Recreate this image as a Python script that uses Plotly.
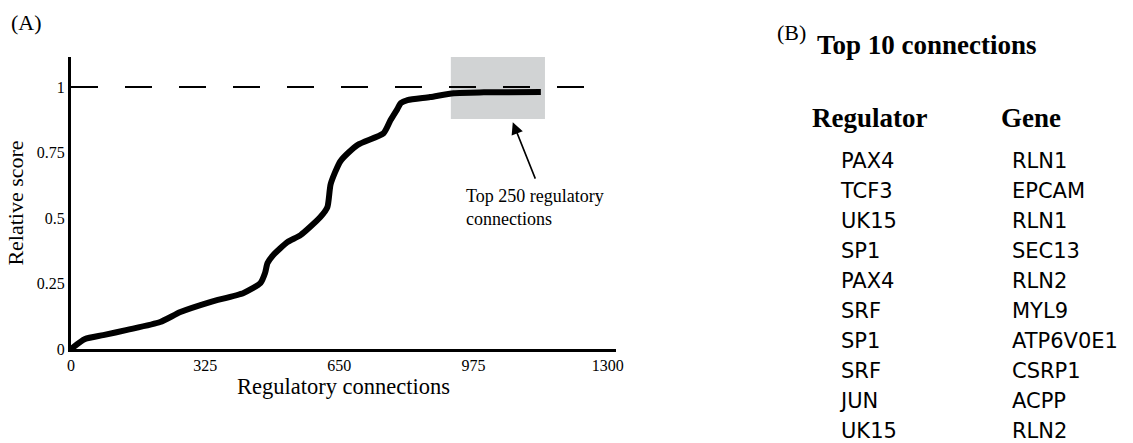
import plotly.graph_objects as go

W, H = 1133, 443

# ---- Panel A data ----
conn_x = [0, 34, 78, 136, 216, 265, 337, 418, 459, 470, 476, 490, 524, 556, 604, 621,
          629, 653, 694, 757, 774, 790, 799, 815, 870, 927, 1000, 1138]
score_y = [0, 0.038, 0.053, 0.073, 0.103, 0.141, 0.179, 0.214, 0.252, 0.29, 0.328, 0.359,
           0.408, 0.435, 0.504, 0.542, 0.63, 0.718, 0.779, 0.824, 0.874, 0.915, 0.939,
           0.950, 0.962, 0.977, 0.980, 0.981]
ref_x = [0, 1262]
ref_y = [1, 1]
x_ticks = [0, 325, 650, 975, 1300]
y_ticks = [0, 0.25, 0.5, 0.75, 1]
y_tick_text = ["0", "0.25", "0.5", "0.75", "1"]
box_x = [920, 1148]
box_y = [0.878, 1.115]

# ---- Panel B data ----
regulators = ["PAX4", "TCF3", "UK15", "SP1", "PAX4", "SRF", "SP1", "SRF", "JUN", "UK15"]
genes = ["RLN1", "EPCAM", "RLN1", "SEC13", "RLN2", "MYL9", "ATP6V0E1", "CSRP1", "ACPP", "RLN2"]

SERIF = "Liberation Serif"
SANS = "DejaVu Sans"

fig = go.Figure()

fig.add_trace(go.Scatter(x=ref_x, y=ref_y, mode="lines",
                         line=dict(color="black", width=2, dash="27px,27px"),
                         hoverinfo="skip", showlegend=False))
fig.add_trace(go.Scatter(x=conn_x, y=score_y, mode="lines",
                         line=dict(color="black", width=6, shape="spline", smoothing=0.6),
                         showlegend=False))

rows = list(range(len(regulators)))
fig.add_trace(go.Scatter(x=[0] * len(regulators), y=rows, text=regulators, mode="text",
                         textposition="middle right",
                         textfont=dict(family=SANS, size=21, color="black"),
                         xaxis="x2", yaxis="y2", showlegend=False))
fig.add_trace(go.Scatter(x=[1] * len(genes), y=rows, text=genes, mode="text",
                         textposition="middle right",
                         textfont=dict(family=SANS, size=21, color="black"),
                         xaxis="x2", yaxis="y2", showlegend=False))

fig.add_shape(type="rect", xref="x", yref="y", x0=box_x[0], x1=box_x[1],
              y0=box_y[0], y1=box_y[1], fillcolor="#d1d3d4", line=dict(width=0),
              layer="below")

fig.add_annotation(x=1070, y=0.866, ax=1126, ay=0.645, xref="x", yref="y",
                   axref="x", ayref="y", text="", showarrow=True,
                   arrowhead=2, arrowsize=1.5, arrowwidth=1.6, arrowcolor="black")
fig.add_annotation(x=952, y=0.63, xref="x", yref="y", xanchor="left", yanchor="top",
                   align="left", showarrow=False,
                   text="Top 250 regulatory<br>connections",
                   font=dict(family=SERIF, size=18, color="black"))

fig.add_annotation(x=9 / W, y=1 - 22 / H, xref="paper", yref="paper",
                   xanchor="left", yanchor="middle", showarrow=False,
                   text="(A)", font=dict(family=SERIF, size=22, color="black"))
fig.add_annotation(x=775 / W, y=1 - 32 / H, xref="paper", yref="paper",
                   xanchor="left", yanchor="middle", showarrow=False,
                   text="(B)", font=dict(family=SERIF, size=22, color="black"))
fig.add_annotation(x=815 / W, y=1 - 45 / H, xref="paper", yref="paper",
                   xanchor="left", yanchor="middle", showarrow=False,
                   text="<b>Top 10 connections</b>",
                   font=dict(family=SERIF, size=27, color="black"))
fig.add_annotation(x=0.164, y=-1.5, xref="x2", yref="y2", xanchor="center",
                   yanchor="middle", showarrow=False, text="<b>Regulator</b>",
                   font=dict(family=SERIF, size=27, color="black"))
fig.add_annotation(x=1.111, y=-1.5, xref="x2", yref="y2", xanchor="center",
                   yanchor="middle", showarrow=False, text="<b>Gene</b>",
                   font=dict(family=SERIF, size=27, color="black"))

fig.update_layout(
    width=W, height=H,
    margin=dict(l=0, r=0, t=0, b=0, autoexpand=False),
    paper_bgcolor="white", plot_bgcolor="rgba(0,0,0,0)",
    showlegend=False,
    xaxis=dict(domain=[71 / W, 616 / W], range=[0, 1320], showgrid=False, zeroline=False,
               automargin=False,
               showline=True, linecolor="black", linewidth=3, ticks="",
               tickvals=x_ticks, tickfont=dict(family=SERIF, size=16, color="black"),
               title=dict(text="Regulatory connections", standoff=6,
                          font=dict(family=SERIF, size=22.5, color="black"))),
    yaxis=dict(domain=[(H - 349) / H, (H - 57) / H], range=[0, 1.115], showgrid=False,
               automargin=False,
               zeroline=False, showline=True, linecolor="black", linewidth=3, ticks="",
               tickvals=y_ticks, ticktext=y_tick_text,
               tickfont=dict(family=SERIF, size=16, color="black"),
               title=dict(text="Relative score", standoff=8,
                          font=dict(family=SERIF, size=22, color="black"))),
    xaxis2=dict(domain=[740 / W, 1.0], range=[-101 / 171, (393 - 101) / 171],
                visible=False, anchor="y2", automargin=False),
    yaxis2=dict(domain=[0, 1], range=[(H - 163) / 30, -163 / 30],
                visible=False, anchor="x2", automargin=False),
)

fig.write_html("out.html", config={"displayModeBar": False},
               post_script="document.body.style.margin='0';document.body.style.overflow='hidden';")
